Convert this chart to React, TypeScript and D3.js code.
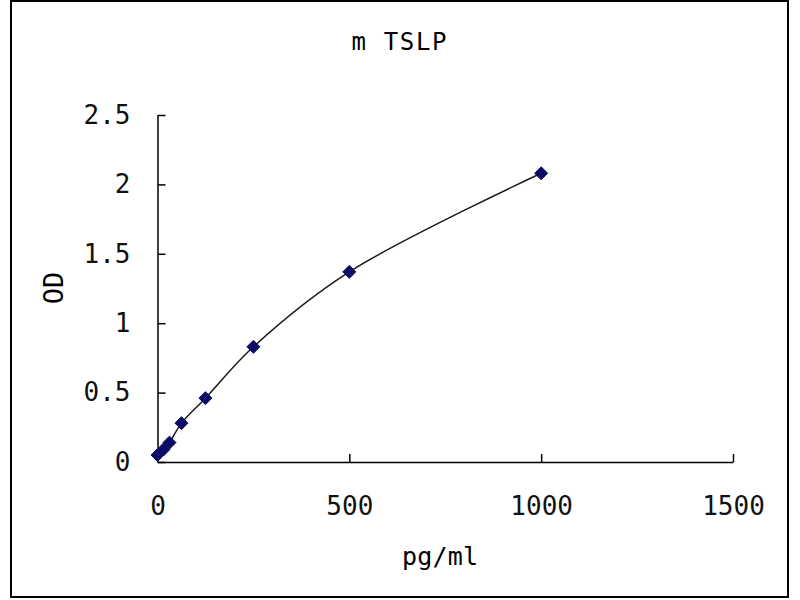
import React, { useEffect, useRef } from "react";
import * as d3 from "d3";

// standard curve: concentration (pg/ml) vs OD
const concentrations = [0, 15.6, 31.25, 62.5, 125, 250, 500, 1000];
const odValues = [0.05, 0.09, 0.14, 0.28, 0.46, 0.83, 1.37, 2.08];
const xTicks = [0, 500, 1000, 1500];
const yTicks = [0, 0.5, 1, 1.5, 2, 2.5];

const title = "m TSLP";
const xLabel = "pg/ml";
const yLabel = "OD";

const FONT = "'DejaVu Sans Mono', 'Liberation Mono', monospace";

const App: React.FC = () => {
  const svgRef = useRef<SVGSVGElement>(null);

  useEffect(() => {
    if (!svgRef.current) return;
    const svg = d3.select(svgRef.current);
    svg.selectAll("*").remove();

    const width = 800;
    const height = 600;

    svg.attr("width", width).attr("height", height);

    svg
      .append("rect")
      .attr("width", width)
      .attr("height", height)
      .attr("fill", "#fff");

    // outer frame
    svg
      .append("rect")
      .attr("x", 11)
      .attr("y", 1)
      .attr("width", 777)
      .attr("height", 596)
      .attr("fill", "none")
      .attr("stroke", "#000")
      .attr("stroke-width", 2);

    const x = d3.scaleLinear().domain([0, 1500]).range([157.5, 733]);
    const y = d3.scaleLinear().domain([0, 2.5]).range([462, 115]);

    // x axis, ticks pointing up
    const xAxis = svg
      .append("g")
      .attr("transform", `translate(0, ${y(0)})`)
      .call(
        d3
          .axisBottom(x)
          .tickValues(xTicks)
          .tickSizeInner(-8)
          .tickSizeOuter(0)
          .tickPadding(35)
          .tickFormat(d3.format("d"))
      );

    // y axis, ticks pointing right
    const yAxis = svg
      .append("g")
      .attr("transform", `translate(${x(0)}, 0)`)
      .call(
        d3
          .axisLeft(y)
          .tickValues(yTicks)
          .tickSizeInner(-8)
          .tickSizeOuter(0)
          .tickPadding(27)
          .tickFormat((d) => String(d))
      );

    [xAxis, yAxis].forEach((axis) => {
      axis.select(".domain").attr("stroke", "#000").attr("stroke-width", 1.5);
      axis.selectAll(".tick line").attr("stroke", "#000").attr("stroke-width", 1.5);
      axis
        .selectAll(".tick text")
        .attr("fill", "#111")
        .style("font-family", FONT)
        .style("font-size", "26px");
    });

    // smoothed curve through the standards
    const points = concentrations.map((c, i) => [c, odValues[i]] as [number, number]);

    const line = d3
      .line<[number, number]>()
      .x((d) => x(d[0]))
      .y((d) => y(d[1]))
      .curve(d3.curveCatmullRom.alpha(0.5));

    svg
      .append("path")
      .datum(points)
      .attr("d", line)
      .attr("fill", "none")
      .attr("stroke", "#1a1a1a")
      .attr("stroke-width", 1.5);

    // diamond markers
    const r = 6.5;
    svg
      .append("g")
      .selectAll("path")
      .data(points)
      .join("path")
      .attr(
        "d",
        (d) =>
          `M${x(d[0])},${y(d[1]) - r}L${x(d[0]) + r},${y(d[1])}L${x(d[0])},${y(d[1]) + r}L${x(d[0]) - r},${y(d[1])}Z`
      )
      .attr("fill", "#0c0c66")
      .attr("stroke", "#0c0c66")
      .attr("stroke-width", 1);

    // title
    svg
      .append("text")
      .attr("x", 399)
      .attr("y", 50)
      .attr("text-anchor", "middle")
      .attr("textLength", 95)
      .attr("lengthAdjust", "spacing")
      .style("font-family", FONT)
      .style("font-size", "24px")
      .text(title);

    // x label
    svg
      .append("text")
      .attr("x", 440)
      .attr("y", 565)
      .attr("text-anchor", "middle")
      .attr("textLength", 76)
      .attr("lengthAdjust", "spacing")
      .style("font-family", FONT)
      .style("font-size", "25px")
      .text(xLabel);

    // y label
    svg
      .append("text")
      .attr("transform", "translate(63, 288) rotate(-90)")
      .attr("text-anchor", "middle")
      .style("font-family", FONT)
      .style("font-size", "27px")
      .text(yLabel);
  }, []);

  return (
    <div style={{ position: "absolute", left: 0, top: 0 }}>
      <svg ref={svgRef}></svg>
    </div>
  );
};

export default App;
